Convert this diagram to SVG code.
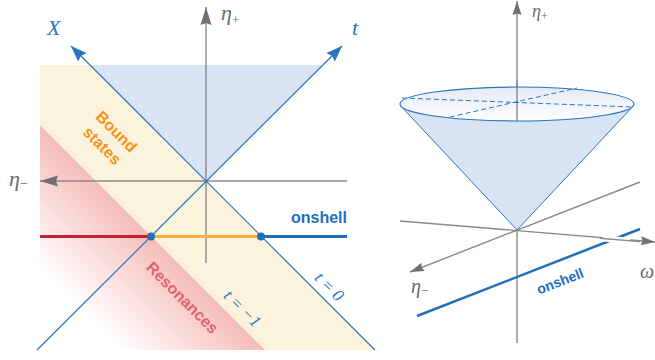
<svg xmlns="http://www.w3.org/2000/svg" width="655" height="360" viewBox="0 0 655 360">
<style>
.ax{stroke:#8a8a8a;stroke-width:1.4;fill:none}
.bl{stroke:#2a74c0;stroke-width:1.2;fill:none}
.math{font-family:"Liberation Serif","DejaVu Serif",serif;font-style:italic}
.lbl{font-family:"Liberation Sans",Arial,sans-serif;font-weight:bold}
.sub{font-style:normal}
</style>
<defs>
<marker id="ga" viewBox="-20 -8 22 16" markerWidth="22" markerHeight="16" refX="0" refY="0" orient="auto" markerUnits="userSpaceOnUse">
<path d="M0,0 L-18,-5.5 L-16,0 L-18,5.5 Z" fill="#707070"/>
</marker>
<marker id="gs" viewBox="-16 -6 18 12" markerWidth="18" markerHeight="12" refX="0" refY="0" orient="auto" markerUnits="userSpaceOnUse">
<path d="M0,0 L-14,-4.5 L-12.5,0 L-14,4.5 Z" fill="#707070"/>
</marker>
<marker id="ba" viewBox="-18 -8 20 16" markerWidth="20" markerHeight="16" refX="0" refY="0" orient="auto" markerUnits="userSpaceOnUse">
<path d="M0,0 L-16,-6 L-14,0 L-16,6 Z" fill="#2a74c0"/>
</marker>
<linearGradient id="redg" gradientUnits="userSpaceOnUse" x1="152" y1="237" x2="80" y2="309">
<stop offset="0" stop-color="#f6bdb9"/>
<stop offset="1" stop-color="#ffffff"/>
</linearGradient>
<linearGradient id="topg" x1="0" y1="0" x2="0" y2="1">
<stop offset="0" stop-color="#e3e7f4"/>
<stop offset="1" stop-color="#ffffff"/>
</linearGradient>
</defs>

<g id="left-regions">
<polygon id="bound-region" points="40,65 90,65 375,350 40,350" fill="#fcf3dc"/>
<polygon id="resonance-region" points="40,125 265,350 40,350" fill="url(#redg)"/>
<polygon id="future-cone" points="90,65 322,65 206,181" fill="#d8e3f3"/>
</g>

<g id="connectors">
<line class="ax" x1="206" y1="263" x2="206" y2="7" marker-end="url(#ga)"/>
<line class="ax" x1="347" y1="181" x2="40" y2="181" marker-end="url(#ga)"/>
<line class="bl" x1="375" y1="350" x2="71" y2="46" marker-end="url(#ba)"/>
<line class="bl" x1="37" y1="350" x2="342" y2="46" marker-end="url(#ba)"/>
<line x1="40" y1="236.5" x2="151" y2="236.5" stroke="#c8202f" stroke-width="3"/>
<line x1="151" y1="236.5" x2="261" y2="236.5" stroke="#fbb040" stroke-width="3"/>
<line x1="261" y1="236.5" x2="347" y2="236.5" stroke="#1f6fba" stroke-width="3"/>
</g>

<g id="onshell-points">
<circle cx="151" cy="236.5" r="4" fill="#1f6fba"/>
<circle cx="261" cy="236.5" r="4" fill="#1f6fba"/>
</g>

<g id="left-labels">
<text class="math" x="47" y="35" font-size="22" fill="#2a74c0">X</text>
<text class="math" x="352" y="35" font-size="22" fill="#2a74c0">t</text>
<text class="math" x="221" y="20" font-size="22" fill="#6a6a6a">η<tspan class="sub" font-size="13" dy="4">+</tspan></text>
<text class="math" x="9" y="186" font-size="22" fill="#6a6a6a">η<tspan class="sub" font-size="14" dy="2">−</tspan></text>
<text class="lbl" x="347" y="223" font-size="16" fill="#1f6fba" text-anchor="end">onshell</text>
<text class="lbl" font-size="16" fill="#f7941d" text-anchor="middle" transform="translate(109,139) rotate(45)"><tspan x="0" y="-5">Bound</tspan><tspan x="0" y="15">states</tspan></text>
<text class="lbl" font-size="16" fill="#e0646e" text-anchor="middle" transform="translate(182,298) rotate(45)" y="5">Resonances</text>
<text class="math" font-size="17" fill="#2a74c0" text-anchor="middle" transform="translate(242,309) rotate(45)" y="5">t = −1</text>
<text class="math" font-size="17" fill="#2a74c0" text-anchor="middle" transform="translate(329,287) rotate(45)" y="5">t = 0</text>
</g>

<g id="right-diagram">
<line class="ax" x1="400" y1="221" x2="655" y2="242" marker-end="url(#gs)"/>
<line class="ax" x1="640" y1="182" x2="410" y2="272" marker-end="url(#gs)"/>
<line class="ax" x1="517" y1="343" x2="517" y2="1" marker-end="url(#gs)"/>
<ellipse cx="517" cy="104" rx="117" ry="17" fill="url(#topg)" fill-opacity="0.9"/>
<line class="ax" x1="517" y1="80" x2="517" y2="122"/>
<path d="M401,106.3 A117,17 0 0 0 633,106.3 L517,230 Z" fill="#d8e3f3"/>
<path d="M401,106.3 L517,230 L633,106.3" fill="none" stroke="#2a74c0" stroke-width="1"/>
<ellipse cx="517" cy="104" rx="117" ry="17" fill="none" stroke="#2a74c0" stroke-width="1.2"/>
<line x1="402" y1="98" x2="633" y2="107" stroke="#2a74c0" stroke-width="1" stroke-dasharray="5,3"/>
<line x1="450" y1="117" x2="577" y2="88" stroke="#2a74c0" stroke-width="1" stroke-dasharray="5,3"/>
<line x1="417" y1="316" x2="640" y2="229" stroke="#1f6fba" stroke-width="2.5"/>
<line x1="603" y1="238.6" x2="630" y2="240.8" stroke="#ffffff" stroke-width="6"/>
<line class="ax" x1="600" y1="238.3" x2="640" y2="241.6"/>
<text class="math" x="532" y="17" font-size="18" fill="#6a6a6a">η<tspan class="sub" font-size="12" dy="3">+</tspan></text>
<text class="math" x="640" y="278" font-size="20" fill="#6a6a6a">ω</text>
<text class="math" x="411" y="293" font-size="20" fill="#6a6a6a">η<tspan class="sub" font-size="13" dy="2">−</tspan></text>
<text class="lbl" font-size="14" fill="#1f6fba" text-anchor="middle" transform="translate(560,281) rotate(-21)" y="5">onshell</text>
</g>
</svg>
